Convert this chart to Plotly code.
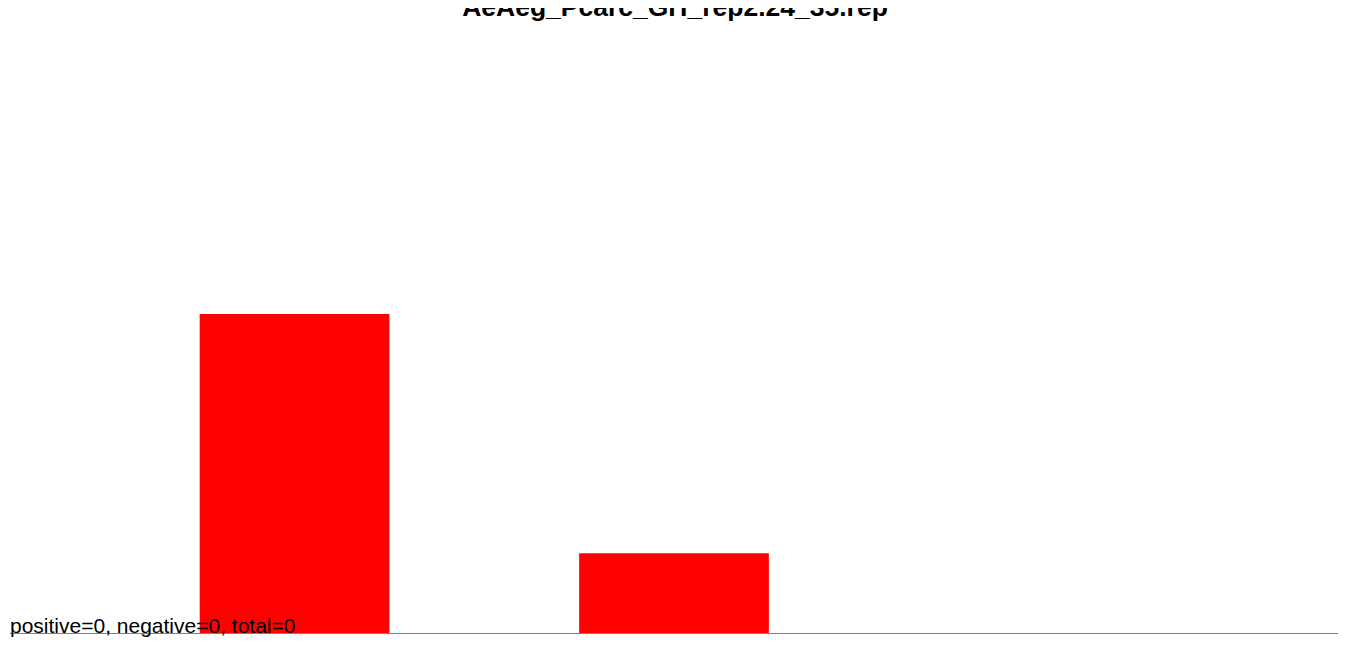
import plotly.graph_objects as go

TITLE = "AeAeg_Pcarc_GH_rep2.24_35.rep"
SUMMARY = "positive=0, negative=0, total=0"

# categorias sin etiqueta visible; la tercera queda vacia
categories = [0, 1, 2]
counts = [4, 1, 0]

fig = go.Figure()
fig.add_trace(go.Bar(
    x=categories,
    y=counts,
    width=0.5,
    marker={"color": "#ff0000", "line": {"width": 0}},
    hoverinfo="y",
))

# la pagina tiene 8px de margen en el body
fig.update_layout(
    width=1334,
    height=633,
    margin={"l": 2, "r": 4, "t": 10, "b": 8},
    paper_bgcolor="white",
    plot_bgcolor="white",
    showlegend=False,
    font={"family": "Liberation Sans, Arial, sans-serif", "color": "black"},
    title={
        "text": f"<b>{TITLE}</b>",
        "x": 0.5, "xanchor": "center",
        "xref": "container", "yref": "paper",
        "y": 1, "yanchor": "bottom",
        "pad": {"b": 2},
        "font": {"size": 26.5, "color": "black"},
    },
    annotations=[{
        "text": SUMMARY,
        "xref": "paper", "yref": "paper",
        "x": 0, "y": 0, "xanchor": "left", "yanchor": "bottom",
        "yshift": -6, "xshift": -2,
        "showarrow": False,
        "font": {"size": 21, "color": "black"},
    }],
)
fig.update_xaxes(
    range=[-0.75, 2.75],
    showgrid=False, zeroline=False, showticklabels=False, ticks="",
    showline=True, linecolor="#808080", linewidth=1,
)
fig.update_yaxes(
    range=[0, 7.71],
    showgrid=False, zeroline=False, showticklabels=False, ticks="",
    showline=False,
)

fig.write_html("out.html")
